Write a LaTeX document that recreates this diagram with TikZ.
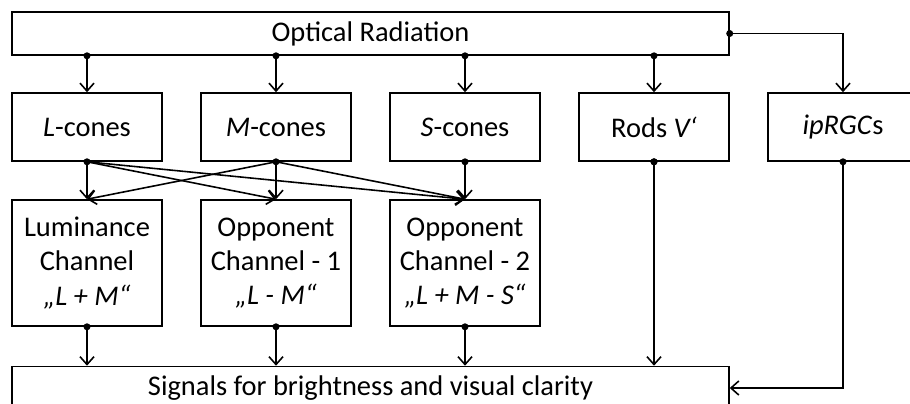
\documentclass[tikz,border=0pt]{standalone}
\usepackage{fontspec}
\setmainfont{Carlito}
\usetikzlibrary{arrows.meta}

\tikzset{
  box/.style={draw,line width=0.9pt,minimum width=3cm,minimum height=1.36cm,inner sep=0pt,
    align=center,font=\fontsize{16.2}{19.4}\selectfont},
  widebox/.style={box,minimum width=14.34cm,minimum height=0.86cm},
  chanbox/.style={box,minimum height=2.52cm},
  link/.style={line width=0.9pt,-{Straight Barb[length=4.5pt,width=8pt,line width=0.9pt]}},
}

\begin{document}
\begin{tikzpicture}[x=0.02cm,y=-0.02cm]
  \useasboundingbox (0,0) rectangle (910,403);
  % boxes
  \node[widebox] (radiation) at (370.5,33.5) {Optical Radiation};
  \node[box] (lcones) at (87,127) {\textit{L}-cones};
  \node[box] (mcones) at (276,127) {\textit{M}-cones};
  \node[box] (scones) at (465,127) {\textit{S}-cones};
  \node[box] (rods) at (654,127) {Rods \textit{V‘}};
  \node[box] (iprgcs) at (843,127) {\textit{ipRGC}s};
  \node[chanbox] (lum) at (87,263) {Luminance\\Channel\\\textit{„L + M“}};
  \node[chanbox] (opp1) at (276,263) {Opponent\\Channel - 1\\\textit{„L - M“}};
  \node[chanbox] (opp2) at (465,263) {Opponent\\Channel - 2\\\textit{„L + M - S“}};
  \node[widebox] (signals) at (370.5,388) {Signals for brightness and visual clarity};

  % radiation to receptors
  \foreach \n in {lcones,mcones,scones,rods} {
    \draw[link] (radiation.south -| \n) -- (\n.north);
    \fill (radiation.south -| \n) circle (0.07cm);
  }
  \draw[link] (radiation.east) -| (iprgcs.north);
  \fill (radiation.east) circle (0.07cm);

  % cones to channels
  \draw[link] (lcones.south) -- (lum.north);
  \draw[link] (lcones.south) -- (opp1.north);
  \draw[link] (lcones.south) -- (opp2.north);
  \draw[link] (mcones.south) -- (lum.north);
  \draw[link] (mcones.south) -- (opp1.north);
  \draw[link] (mcones.south) -- (opp2.north);
  \draw[link] (scones.south) -- (opp2.north);
  \foreach \n in {lcones,mcones,scones,rods,iprgcs}
    \fill (\n.south) circle (0.07cm);

  % everything to signals
  \foreach \n in {lum,opp1,opp2,rods} {
    \draw[link] (\n.south) -- (\n.south |- signals.north);
    \fill (\n.south) circle (0.07cm);
  }
  \draw[link] (iprgcs.south) |- (signals.east);
\end{tikzpicture}
\end{document}
